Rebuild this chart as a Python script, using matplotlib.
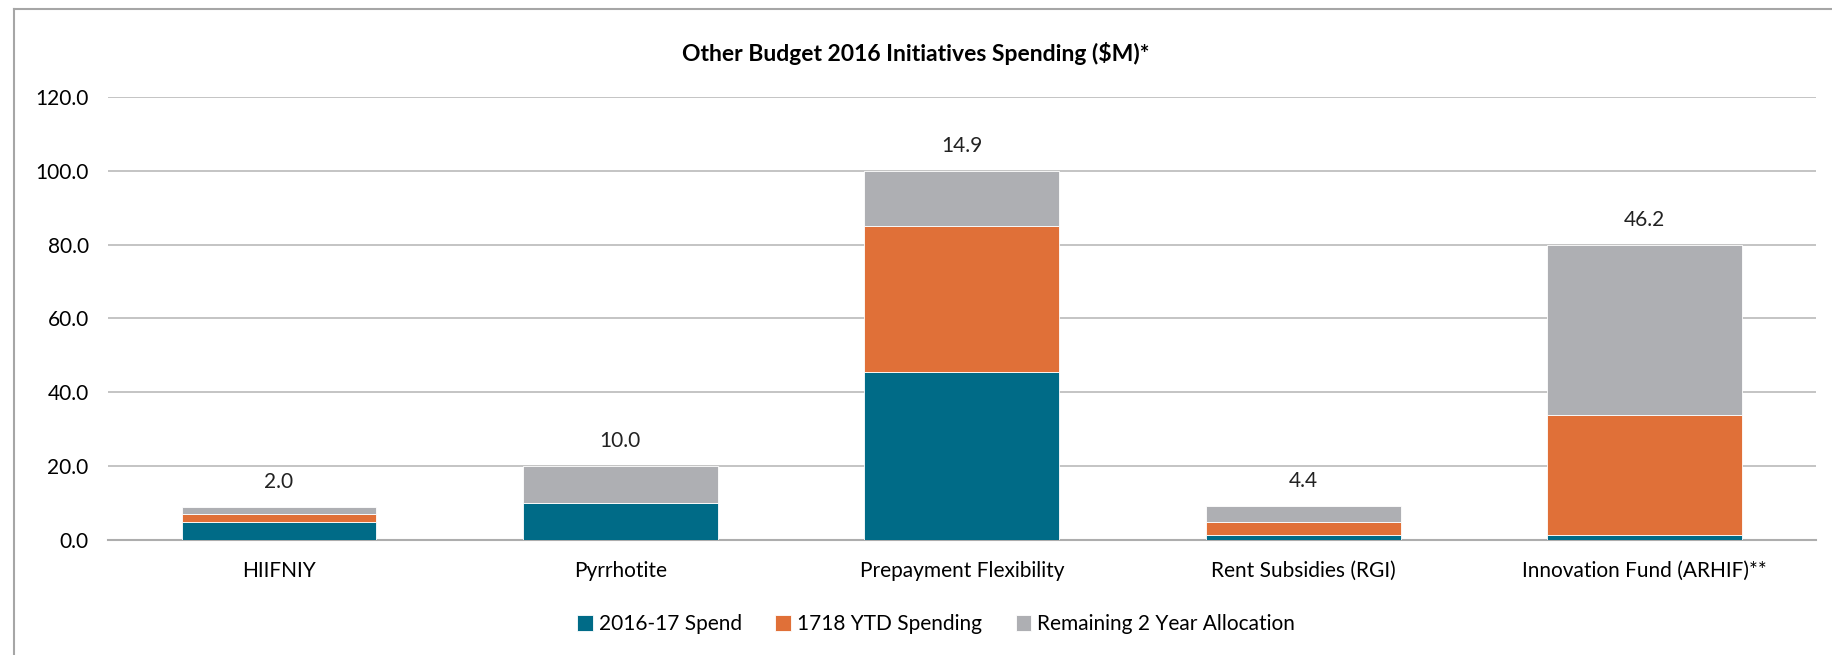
import matplotlib
matplotlib.use("Agg")
import matplotlib.pyplot as plt
from matplotlib.lines import Line2D
import numpy as np

# ------------------- Data -------------------
categories = ["HIIFNIY", "Pyrrhotite", "Prepayment Flexibility", "Rent Subsidies (RGI)", "Innovation Fund (ARHIF)**"]
spend_1617 = [4.9, 10.0, 45.6, 1.3, 1.3]
ytd_1718 = [2.1, 0.0, 39.5, 3.5, 32.5]
remaining = [2.0, 10.0, 14.9, 4.4, 46.2]
series_names = ["2016-17 Spend", "1718 YTD Spending", "Remaining 2 Year Allocation"]
colors = ["#006B87", "#E07038", "#AEAFB3"]
yticks = [0, 20, 40, 60, 80, 100, 120]

plt.rcParams['font.family'] = ['Lato', 'DejaVu Sans']

fig = plt.figure(figsize=(18.32, 6.55), dpi=100)
ax = fig.add_axes([0.059, 0.1756, 0.932, 0.6764])

x = np.arange(len(categories))
width = 0.57
bottom = np.zeros(len(categories))
for vals, name, col in zip([spend_1617, ytd_1718, remaining], series_names, colors):
    ax.bar(x, vals, width, bottom=bottom, color=col, label=name,
           edgecolor="white", linewidth=0.6, zorder=3)
    bottom += np.array(vals)

# labels above bars (remaining allocation)
for xi, top, r in zip(x, bottom, remaining):
    ax.annotate(f"{r:.1f}", (xi, top), xytext=(0, 18), textcoords="offset points",
                ha="center", va="center", fontsize=15, color="#222222")

ax.set_xlim(-0.5, len(categories) - 0.5)
ax.set_ylim(0, 120)
ax.set_yticks(yticks)
ax.set_yticklabels([f"{v:.1f}" for v in yticks], fontsize=15)
ax.set_xticks(x)
ax.set_xticklabels(categories, fontsize=15)
ax.tick_params(length=0)
ax.tick_params(axis="x", pad=15)
ax.tick_params(axis="y", pad=14)
ax.grid(axis="y", color="#BFBFBF", linewidth=1.3, zorder=0)
for s in ["top", "right", "left"]:
    ax.spines[s].set_visible(False)
ax.spines["bottom"].set_color("#ADADAD")
ax.spines["bottom"].set_linewidth(1.5)

fig.text(0.5, 0.919, "Other Budget 2016 Initiatives Spending ($M)*", ha="center", va="center",
         fontsize=16.5, fontweight="bold")

fig.legend(loc="center", bbox_to_anchor=(0.511, 0.047), ncol=3, frameon=False, fontsize=15,
           handlelength=0.75, handleheight=0.75, handletextpad=0.3, columnspacing=1.6)

# chart frame (left and top edges)
fig.add_artist(Line2D([0.0077, 0.0077], [0, 0.986], transform=fig.transFigure, color="#A6A6A6", linewidth=1.5))
fig.add_artist(Line2D([0.0077, 1.0], [0.986, 0.986], transform=fig.transFigure, color="#A6A6A6", linewidth=1.5))

fig.savefig("out.png", dpi=100)
